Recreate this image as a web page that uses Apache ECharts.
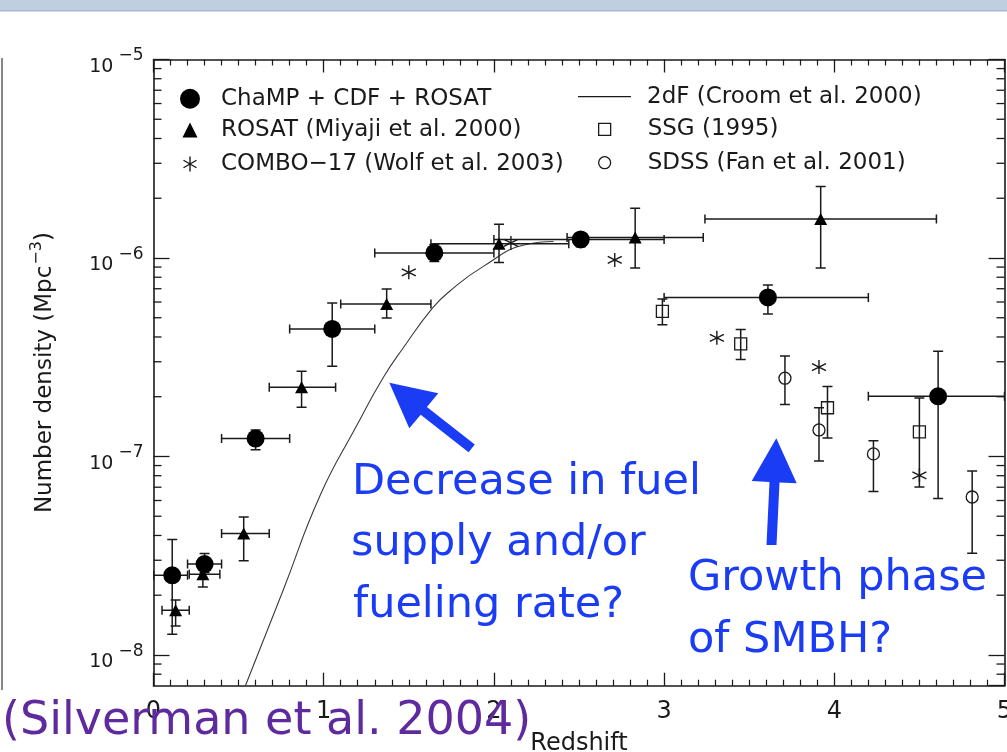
<!DOCTYPE html>
<html>
<head>
<meta charset="utf-8">
<script src="https://cdn.jsdelivr.net/npm/echarts@6/dist/echarts.min.js"></script>
<style>
  html, body { margin: 0; padding: 0; background: #ffffff; }
  #chart { width: 1007px; height: 752px; }
</style>
</head>
<body>
<div id="chart"></div>
<script>
// ---------------- data ----------------
const X_TICKS = [0, 1, 2, 3, 4, 5];
const Y_MIN = 7e-9;
const Y_MAX = 1e-5;
const MINOR_MULT = [2, 3, 4, 5, 6, 7, 8, 9];
const MINOR_DECADES = [-9, -8, -7, -6];

// ChaMP + CDF + ROSAT (filled circles)
const CHAMP_Z   = [0.11, 0.30, 0.60, 1.05, 1.65, 2.51, 3.61, 4.61];
const CHAMP_N   = [2.52e-8, 2.87e-8, 1.23e-7, 4.39e-7, 1.06e-6, 1.24e-6, 6.33e-7, 2.01e-7];
const CHAMP_ZLO = [0.0, 0.2, 0.4, 0.8, 1.3, 2.0, 3.0, 4.2];
const CHAMP_ZHI = [0.2, 0.4, 0.8, 1.3, 2.0, 3.0, 4.2, 5.0];
const CHAMP_NLO = [1.27e-8, 2.6e-8, 1.08e-7, 2.85e-7, 9.6e-7, 1.14e-6, 5.22e-7, 6.14e-8];
const CHAMP_NHI = [3.82e-8, 3.24e-8, 1.36e-7, 5.94e-7, 1.17e-6, 1.34e-6, 7.3e-7, 3.39e-7];

// ROSAT (Miyaji et al. 2000) (filled triangles)
const ROSAT_Z   = [0.13, 0.29, 0.53, 0.87, 1.37, 2.03, 2.83, 3.92];
const ROSAT_N   = [1.68e-8, 2.55e-8, 4.09e-8, 2.23e-7, 5.87e-7, 1.18e-6, 1.27e-6, 1.57e-6];
const ROSAT_ZLO = [0.05, 0.21, 0.40, 0.68, 1.10, 1.63, 2.43, 3.24];
const ROSAT_ZHI = [0.21, 0.39, 0.68, 1.07, 1.63, 2.44, 3.23, 4.60];
const ROSAT_NLO = [1.40e-8, 2.2e-8, 2.98e-8, 1.77e-7, 4.99e-7, 9.5e-7, 8.9e-7, 8.9e-7];
const ROSAT_NHI = [1.89e-8, 2.95e-8, 4.95e-8, 2.69e-7, 6.98e-7, 1.48e-6, 1.78e-6, 2.29e-6];

// COMBO-17 (Wolf et al. 2003) (asterisks)
const COMBO_Z = [1.50, 2.10, 2.71, 3.31, 3.91, 4.50];
const COMBO_N = [8.47e-7, 1.19e-6, 9.77e-7, 3.96e-7, 2.82e-7, 8.04e-8];

// SSG (1995) (open squares)
const SSG_Z   = [2.99, 3.45, 3.96, 4.50];
const SSG_N   = [5.38e-7, 3.69e-7, 1.76e-7, 1.33e-7];
const SSG_NLO = [4.61e-7, 3.08e-7, 1.24e-7, 7.02e-8];
const SSG_NHI = [6.22e-7, 4.36e-7, 2.25e-7, 1.97e-7];

// SDSS (Fan et al. 2001) (open circles)
const SDSS_Z   = [3.71, 3.91, 4.23, 4.81];
const SDSS_N   = [2.48e-7, 1.36e-7, 1.03e-7, 6.25e-8];
const SDSS_NLO = [1.83e-7, 9.5e-8, 6.67e-8, 3.25e-8];
const SDSS_NHI = [3.21e-7, 1.76e-7, 1.20e-7, 8.45e-8];

// 2dF (Croom et al. 2000) curve
const CURVE_Z = [0.54, 0.76, 0.98, 1.19, 1.35, 1.47, 1.64, 1.74, 1.94, 2.19, 2.35];
const CURVE_N = [7.0e-9, 2.1e-8, 6.4e-8, 1.41e-7, 2.5e-7, 3.55e-7, 5.6e-7, 6.8e-7, 9.1e-7, 1.17e-6, 1.21e-6];

const NAMES = {
  champ: 'ChaMP + CDF + ROSAT',
  rosat: 'ROSAT (Miyaji et al. 2000)',
  combo: 'COMBO\u221217 (Wolf et al. 2003)',
  tdf: '2dF (Croom et al. 2000)',
  ssg: 'SSG (1995)',
  sdss: 'SDSS (Fan et al. 2001)'
};

// ---------------- helpers ----------------
const zip = (a, b) => a.map((v, i) => [v, b[i]]);
const MINOR_TICKS = [];
MINOR_DECADES.forEach(d => MINOR_MULT.forEach(m => {
  const v = m * Math.pow(10, d);
  if (v > Y_MIN * 1.001 && v < Y_MAX) MINOR_TICKS.push(v);
}));

const INK = '#1a1a1a';
const AXIS_FONT = '"DejaVu Sans", "Liberation Sans", sans-serif';
const ASTERISK = 'path://M10,0L10,20M1.34,5L18.66,15M1.34,15L18.66,5';
const LINE_ICON = 'path://M0,0L53,0L53,1.3L0,1.3Z';

function makeErr(Z, N, ZLO, ZHI, NLO, NHI) {
  return function (params, api) {
    const i = params.dataIndex;
    const kids = [];
    const st = { stroke: INK, lineWidth: 1.5 };
    if (NLO) {
      const a = api.coord([Z[i], NLO[i]]);
      const b = api.coord([Z[i], NHI[i]]);
      const c = 5;
      kids.push({ type: 'line', shape: { x1: a[0], y1: a[1], x2: b[0], y2: b[1] }, style: st });
      kids.push({ type: 'line', shape: { x1: a[0] - c, y1: a[1], x2: a[0] + c, y2: a[1] }, style: st });
      kids.push({ type: 'line', shape: { x1: b[0] - c, y1: b[1], x2: b[0] + c, y2: b[1] }, style: st });
    }
    if (ZLO) {
      const a = api.coord([ZLO[i], N[i]]);
      const b = api.coord([ZHI[i], N[i]]);
      const c = 4.5;
      kids.push({ type: 'line', shape: { x1: a[0], y1: a[1], x2: b[0], y2: b[1] }, style: st });
      kids.push({ type: 'line', shape: { x1: a[0], y1: a[1] - c, x2: a[0], y2: a[1] + c }, style: st });
      kids.push({ type: 'line', shape: { x1: b[0], y1: b[1] - c, x2: b[0], y2: b[1] + c }, style: st });
    }
    return { type: 'group', children: kids };
  };
}

function errSeries(Z, N, ZLO, ZHI, NLO, NHI) {
  return {
    type: 'custom',
    renderItem: makeErr(Z, N, ZLO, ZHI, NLO, NHI),
    data: zip(Z, N),
    encode: { x: 0, y: 1 },
    z: 3,
    silent: true,
    clip: true
  };
}

function yLabel(v) {
  const lg = Math.log10(v);
  const e = Math.round(lg);
  if (Math.abs(lg - e) > 0.01) return '';
  return '{b|10}{s|\u2212' + (-e) + '}';
}

const yRich = {
  b: { fontSize: 19, lineHeight: 34, verticalAlign: 'bottom', color: INK, fontFamily: AXIS_FONT },
  s: { fontSize: 17, verticalAlign: 'top', padding: [5, 0, 0, 5], color: INK, fontFamily: AXIS_FONT }
};

const legendText = { fontFamily: AXIS_FONT, fontSize: 23, color: INK, lineHeight: 26 };

const openStyle = { color: 'rgba(0,0,0,0)', borderColor: INK, borderWidth: 1.3, opacity: 1 };
const solidStyle = { color: '#000', opacity: 1 };

const option = {
  animation: false,
  backgroundColor: '#ffffff',
  grid: { left: 153.5, right: 2.5, top: 59.5, bottom: 66.3, containLabel: false, outerBoundsMode: 'none' },
  xAxis: [
    {
      type: 'value', min: X_TICKS[0], max: X_TICKS[X_TICKS.length - 1], interval: 1,
      position: 'bottom',
      axisLine: { show: true, onZero: false, lineStyle: { color: INK, width: 1.6 } },
      axisTick: { show: true, inside: true, length: 13, lineStyle: { color: INK, width: 1.3 } },
      minorTick: { show: true, splitNumber: 10, length: 6, lineStyle: { color: INK, width: 1.2 } },
      axisLabel: { fontFamily: AXIS_FONT, fontSize: 24, color: INK, margin: 14 },
      splitLine: { show: false },
      name: 'Redshift', nameLocation: 'middle', nameGap: 46,
      nameTextStyle: { fontFamily: AXIS_FONT, fontSize: 24, color: INK }
    },
    {
      type: 'value', min: X_TICKS[0], max: X_TICKS[X_TICKS.length - 1], interval: 1,
      position: 'top',
      axisLine: { show: true, onZero: false, lineStyle: { color: INK, width: 1.6 } },
      axisTick: { show: true, inside: true, length: 13, lineStyle: { color: INK, width: 1.3 } },
      minorTick: { show: true, splitNumber: 10, length: 6, lineStyle: { color: INK, width: 1.2 } },
      axisLabel: { show: false },
      splitLine: { show: false }
    }
  ],
  yAxis: [
    {
      type: 'log', logBase: 10, min: Y_MIN, max: Y_MAX, position: 'left',
      axisLine: { show: true, onZero: false, lineStyle: { color: INK, width: 1.6 } },
      axisTick: { show: true, inside: true, length: 16, lineStyle: { color: INK, width: 1.3 } },
      axisLabel: { formatter: yLabel, rich: yRich, margin: 10, showMinLabel: false },
      splitLine: { show: false },
      name: '{a|Number density (Mpc}{s|\u22123}{a|)}',
      nameLocation: 'middle', nameRotate: 90, nameGap: 97,
      nameTextStyle: {
        rich: {
          a: { fontFamily: AXIS_FONT, fontSize: 23, color: INK, lineHeight: 30, verticalAlign: 'bottom' },
          s: { fontFamily: AXIS_FONT, fontSize: 16, color: INK, verticalAlign: 'top', padding: [2, 0, 0, 1] }
        }
      }
    },
    {
      type: 'log', logBase: 10, min: Y_MIN, max: Y_MAX, position: 'right',
      axisLine: { show: true, onZero: false, lineStyle: { color: INK, width: 1.6 } },
      axisTick: { show: true, inside: true, length: 16, lineStyle: { color: INK, width: 1.3 } },
      axisLabel: { show: false },
      splitLine: { show: false }
    }
  ],
  legend: [
    {
      data: [{ name: NAMES.champ, icon: 'circle', itemStyle: { color: '#000', borderWidth: 0, opacity: 1 } }],
      orient: 'vertical', left: 180, top: 85.7, padding: 0,
      itemWidth: 20, itemHeight: 20, selectedMode: false,
      textStyle: Object.assign({}, legendText, { padding: [0, 0, 0, 16] })
    },
    {
      data: [
        { name: NAMES.rosat, icon: 'triangle', itemStyle: { color: '#000', borderWidth: 0, opacity: 1 } },
        { name: NAMES.combo, icon: ASTERISK, itemStyle: { color: 'rgba(0,0,0,0)', borderColor: INK, borderWidth: 1.4, opacity: 1 } }
      ],
      orient: 'vertical', left: 182.5, top: 117, padding: 0, itemGap: 8,
      itemWidth: 15, itemHeight: 15, selectedMode: false,
      textStyle: Object.assign({}, legendText, { padding: [0, 0, 0, 18.5] })
    },
    {
      data: [{ name: NAMES.tdf, icon: LINE_ICON, itemStyle: { color: INK, borderWidth: 0, opacity: 1 } }],
      orient: 'vertical', left: 578, top: 83.7, padding: 0,
      itemWidth: 53, itemHeight: 14, selectedMode: false,
      textStyle: Object.assign({}, legendText, { padding: [0, 0, 0, 11] })
    },
    {
      data: [
        { name: NAMES.ssg, icon: 'rect', itemStyle: openStyle },
        { name: NAMES.sdss, icon: 'circle', itemStyle: openStyle }
      ],
      orient: 'vertical', left: 598, top: 116.3, padding: 0, itemGap: 7.4,
      itemWidth: 12, itemHeight: 12, selectedMode: false,
      textStyle: Object.assign({}, legendText, { padding: [0, 0, 0, 32] })
    }
  ],
  series: [
    // minor ticks on the log axes (left and right)
    {
      type: 'custom', silent: true, z: 2, clip: false,
      data: MINOR_TICKS.map(v => [X_TICKS[0], v]),
      encode: { x: 0, y: 1 },
      renderItem: function (params, api) {
        const v = api.value(1);
        const l = api.coord([X_TICKS[0], v]);
        const r = api.coord([X_TICKS[X_TICKS.length - 1], v]);
        const st = { stroke: INK, lineWidth: 1.3 };
        return {
          type: 'group', children: [
            { type: 'line', shape: { x1: l[0], y1: l[1], x2: l[0] + 8, y2: l[1] }, style: st },
            { type: 'line', shape: { x1: r[0], y1: r[1], x2: r[0] - 8, y2: r[1] }, style: st }
          ]
        };
      }
    },
    errSeries(CHAMP_Z, CHAMP_N, CHAMP_ZLO, CHAMP_ZHI, CHAMP_NLO, CHAMP_NHI),
    errSeries(ROSAT_Z, ROSAT_N, ROSAT_ZLO, ROSAT_ZHI, ROSAT_NLO, ROSAT_NHI),
    errSeries(SSG_Z, SSG_N, null, null, SSG_NLO, SSG_NHI),
    errSeries(SDSS_Z, SDSS_N, null, null, SDSS_NLO, SDSS_NHI),
    {
      name: NAMES.tdf, type: 'line', data: zip(CURVE_Z, CURVE_N),
      symbol: 'none', showSymbol: false, smooth: 0.5, z: 2,
      lineStyle: { color: '#3a3a3a', width: 1.1 }, itemStyle: { color: '#3a3a3a' }
    },
    {
      name: NAMES.champ, type: 'scatter', data: zip(CHAMP_Z, CHAMP_N),
      symbol: 'circle', symbolSize: 18, itemStyle: solidStyle, z: 5
    },
    {
      name: NAMES.rosat, type: 'scatter', data: zip(ROSAT_Z, ROSAT_N),
      symbol: 'triangle', symbolSize: [13, 12], itemStyle: solidStyle, z: 5
    },
    {
      name: NAMES.combo, type: 'scatter', data: zip(COMBO_Z, COMBO_N),
      symbol: ASTERISK, symbolSize: 14,
      itemStyle: { color: 'rgba(0,0,0,0)', borderColor: INK, borderWidth: 1.4, opacity: 1 }, z: 5
    },
    {
      name: NAMES.ssg, type: 'scatter', data: zip(SSG_Z, SSG_N),
      symbol: 'rect', symbolSize: 12, itemStyle: openStyle, z: 5
    },
    {
      name: NAMES.sdss, type: 'scatter', data: zip(SDSS_Z, SDSS_N),
      symbol: 'circle', symbolSize: 12, itemStyle: openStyle, z: 5
    }
  ],
  graphic: [
    // slide header band
    { type: 'rect', left: 0, top: 0, z: 50, shape: { x: 0, y: 0, width: 1007, height: 10 }, style: { fill: '#bfcfe0' } },
    { type: 'rect', left: 0, top: 10, z: 50, shape: { x: 0, y: 0, width: 1007, height: 1.5 }, style: { fill: '#a9bbd0' } },
    // edge of neighbouring frame on the far left
    { type: 'line', z: 50, shape: { x1: 2, y1: 58, x2: 2, y2: 690 }, style: { stroke: '#555', lineWidth: 1.4 } },
    // annotation arrows
    {
      type: 'polygon', z: 60,
      shape: { points: [[474.8, 444.4], [426.9, 406.9], [438.3, 393.3], [389.3, 382.7], [409.3, 428.3], [420.7, 414.7], [468.6, 452.2]] },
      style: { fill: '#1a3cf5' }
    },
    {
      type: 'polygon', z: 60,
      shape: { points: [[766.5, 545], [769.5, 482], [751.7, 481], [776.3, 438.3], [796.7, 483.3], [779.5, 482.5], [776.5, 545]] },
      style: { fill: '#1a3cf5' }
    },
    // annotation texts
    { type: 'text', z: 60, x: 352, y: 483, style: { text: 'Decrease in fuel', font: '43px "DejaVu Sans"', fill: '#1a3cf5', verticalAlign: 'middle' } },
    { type: 'text', z: 60, x: 351, y: 544, style: { text: 'supply and/or', font: '43px "DejaVu Sans"', fill: '#1a3cf5', verticalAlign: 'middle' } },
    { type: 'text', z: 60, x: 353, y: 606, style: { text: 'fueling rate?', font: '43px "DejaVu Sans"', fill: '#1a3cf5', verticalAlign: 'middle' } },
    { type: 'text', z: 60, x: 688, y: 579, style: { text: 'Growth phase', font: '43px "DejaVu Sans"', fill: '#1a3cf5', verticalAlign: 'middle' } },
    { type: 'text', z: 60, x: 688, y: 641, style: { text: 'of SMBH?', font: '43px "DejaVu Sans"', fill: '#1a3cf5', verticalAlign: 'middle' } },
    { type: 'text', z: 60, x: 2, y: 722, style: { text: '(Silverman et al. 2004)', font: '46px "DejaVu Sans"', fill: '#5e2a9e', verticalAlign: 'middle' } }
  ]
};

const chart = echarts.init(document.getElementById('chart'), null, { renderer: 'canvas' });
chart.setOption(option);
</script>
</body>
</html>
